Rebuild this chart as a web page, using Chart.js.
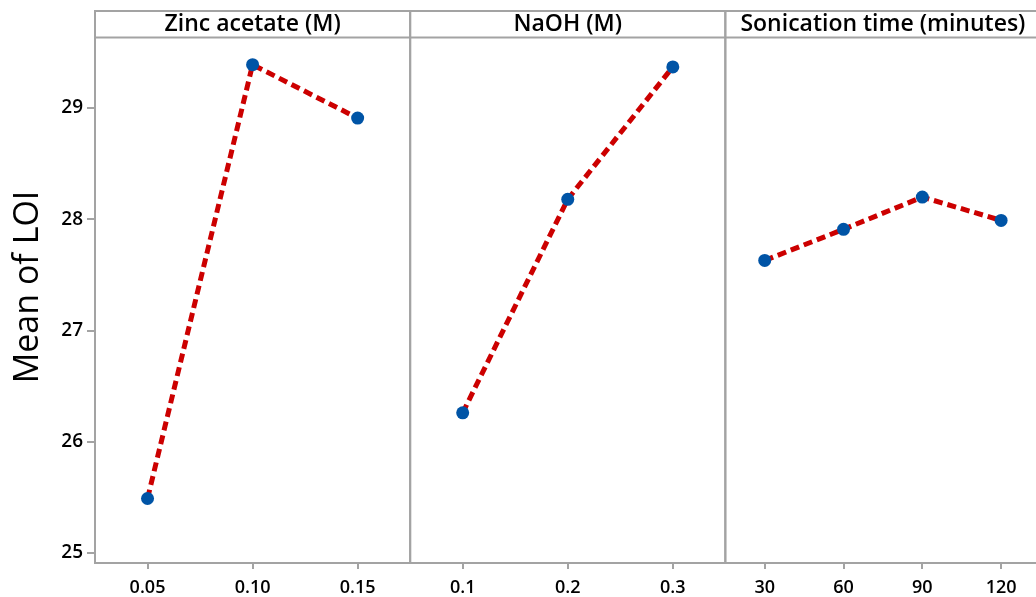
<!DOCTYPE html>
<html>
<head>
<meta charset="utf-8">
<script src="https://cdn.jsdelivr.net/npm/chart.js@4/dist/chart.umd.min.js"></script>
<style>
  html, body { margin: 0; padding: 0; background: #fff; overflow: hidden; }
  #wrap { width: 1047px; height: 597px; }
</style>
</head>
<body>
<div id="wrap"><canvas id="chart" width="1047" height="597"></canvas></div>
<script>
// factor names and levels
const factors = ['Zinc acetate (M)', 'NaOH (M)', 'Sonication time (minutes)'];
const zincLevels = ['0.05', '0.10', '0.15'];
const naohLevels = ['0.1', '0.2', '0.3'];
const sonicLevels = ['30', '60', '90', '120'];

// mean of LOI for each level
const zincMeans = [25.49, 29.39, 28.91];
const naohMeans = [26.26, 28.18, 29.37];
const sonicMeans = [27.63, 27.91, 28.20, 27.99];

const yTicks = [25, 26, 27, 28, 29];
const yTitle = 'Mean of LOI';

// each panel is 3 units wide on a shared linear x axis
const PANEL = 3;
const levelSets = [zincLevels, naohLevels, sonicLevels];
const meanSets = [zincMeans, naohMeans, sonicMeans];

const tickPos = [];
const tickText = {};
const datasets = levelSets.map((levels, p) => {
    const step = PANEL / levels.length;
    const pts = levels.map((lab, i) => {
        const x = p * PANEL + step * (i + 0.5);
        tickPos.push(x);
        tickText[x.toFixed(4)] = lab;
        return { x: x, y: meanSets[p][i] };
    });
    return {
        label: factors[p],
        data: pts,
        borderColor: '#cc0000',
        borderWidth: 5,
        borderDash: [9, 5],
        pointRadius: 6.5,
        pointHoverRadius: 6.5,
        pointBackgroundColor: '#0054a6',
        pointBorderWidth: 0,
        tension: 0,
    };
});

const font = "'Open Sans', 'Noto Sans', sans-serif";

// panel frames, header strips and the y title
const panelPlugin = {
    id: 'panels',
    afterDraw(chart) {
        const { ctx, chartArea, scales } = chart;
        const top = 11, head = 37.5;
        ctx.save();
        ctx.strokeStyle = '#a3a3a3';
        ctx.lineWidth = 2;
        factors.forEach((name, p) => {
            const x0 = scales.x.getPixelForValue(p * PANEL);
            const x1 = scales.x.getPixelForValue((p + 1) * PANEL);
            ctx.strokeRect(x0, top, x1 - x0, chartArea.bottom - top);
            ctx.beginPath();
            ctx.moveTo(x0, head);
            ctx.lineTo(x1, head);
            ctx.stroke();
            ctx.fillStyle = '#000';
            ctx.font = '600 23px ' + font;
            ctx.textAlign = 'center';
            ctx.textBaseline = 'alphabetic';
            ctx.fillText(name, (x0 + x1) / 2, 31);
        });

        ctx.translate(38, (top + chartArea.bottom) / 2);
        ctx.rotate(-Math.PI / 2);
        ctx.font = '34px ' + font;
        ctx.textAlign = 'center';
        ctx.textBaseline = 'alphabetic';
        ctx.fillText(yTitle, 0, 0);
        ctx.restore();
    }
};

new Chart(document.getElementById('chart'), {
    type: 'line',
    data: { datasets },
    plugins: [panelPlugin],
    options: {
        responsive: false,
        animation: false,
        layout: { padding: { top: 38, right: 2, left: 0, bottom: 0 } },
        plugins: {
            legend: { display: false },
            tooltip: { enabled: false },
        },
        scales: {
            x: {
                type: 'linear',
                min: 0,
                max: 9,
                afterBuildTicks: (scale) => {
                    scale.ticks = tickPos.map(v => ({ value: v }));
                },
                afterFit: (scale) => { scale.height = 34; },
                ticks: {
                    autoSkip: false,
                    maxRotation: 0,
                    padding: 8,
                    color: '#000',
                    font: { family: font, size: 18, weight: '600' },
                    callback: (v) => tickText[Number(v).toFixed(4)] || '',
                },
                grid: { display: true, drawOnChartArea: false, drawTicks: true, tickLength: 6, color: '#a3a3a3', lineWidth: 2 },
                border: { display: false },
            },
            y: {
                min: 24.91,
                max: 29.63,
                afterBuildTicks: (scale) => {
                    scale.ticks = yTicks.map(v => ({ value: v }));
                },
                afterFit: (scale) => { scale.width = 95; },
                ticks: {
                    padding: 4,
                    color: '#000',
                    font: { family: font, size: 19, weight: '600' },
                },
                grid: { display: true, drawOnChartArea: false, drawTicks: true, tickLength: 8, color: '#a3a3a3', lineWidth: 2 },
                border: { display: false },
            },
        },
    },
});
</script>
</body>
</html>
